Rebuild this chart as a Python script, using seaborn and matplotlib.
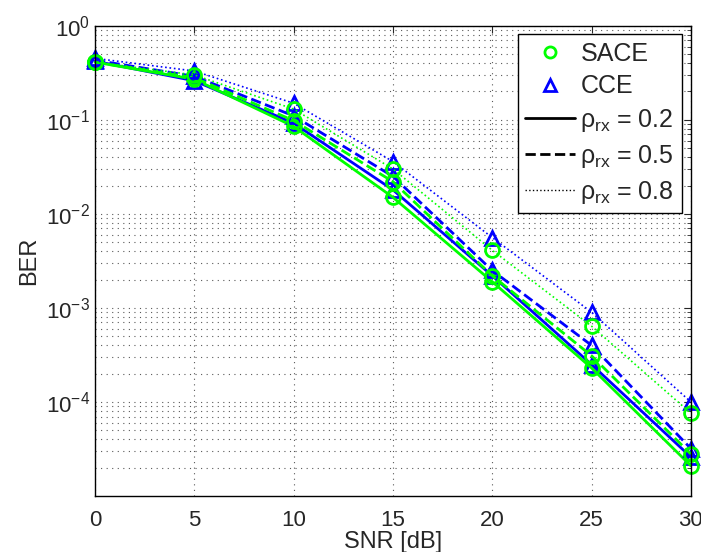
import numpy as np
import pandas as pd
import matplotlib
matplotlib.use("Agg")
import matplotlib.pyplot as plt
import seaborn as sns
from matplotlib.lines import Line2D
from matplotlib.ticker import LogLocator, NullFormatter

sns.set_style("white")
plt.rcParams['font.family'] = ['Liberation Sans', 'DejaVu Sans']
plt.rcParams['mathtext.fontset'] = 'custom'
plt.rcParams['mathtext.rm'] = 'Liberation Sans'
plt.rcParams['mathtext.it'] = 'Liberation Sans'

# Data
snr = [0, 5, 10, 15, 20, 25, 30]
sace_02 = [0.41, 0.27, 0.085, 0.015, 0.0019, 0.00023, 0.000021]
cce_02 = [0.42, 0.26, 0.092, 0.018, 0.0022, 0.00025, 0.000026]
sace_05 = [0.41, 0.28, 0.098, 0.022, 0.0022, 0.00031, 0.000028]
cce_05 = [0.43, 0.29, 0.11, 0.025, 0.0025, 0.00040, 0.000032]
sace_08 = [0.41, 0.30, 0.13, 0.030, 0.0041, 0.00064, 0.000076]
cce_08 = [0.45, 0.33, 0.15, 0.036, 0.0056, 0.00090, 0.000100]

rho_labels = ["0.2", "0.5", "0.8"]
styles = ["-", "--", ":"]
sace_series = [sace_02, sace_05, sace_08]
cce_series = [cce_02, cce_05, cce_08]

green = (0, 1, 0)
blue = (0, 0, 1)

fig = plt.figure(figsize=(7.01, 5.52), dpi=100)
ax = fig.add_axes([0.1355, 0.1014, 0.850, 0.852])

for ls, s_vals, c_vals in zip(styles, sace_series, cce_series):
    lw = 2 if ls != ":" else 1.2
    sns.lineplot(x=snr, y=c_vals, ax=ax, color=blue, linestyle=ls, linewidth=lw,
                 marker="^", markersize=10, markerfacecolor="none",
                 markeredgecolor=blue, markeredgewidth=2, clip_on=False)
    sns.lineplot(x=snr, y=s_vals, ax=ax, color=green, linestyle=ls, linewidth=lw,
                 marker="o", markersize=10, markerfacecolor="none",
                 markeredgecolor=green, markeredgewidth=2, clip_on=False)

ax.set_yscale("log")
ax.set_xlim(0, 30)
ax.set_ylim(1e-5, 1)
ax.set_xticks([0, 5, 10, 15, 20, 25, 30])
ax.set_yticks([1e0, 1e-1, 1e-2, 1e-3, 1e-4])
ax.yaxis.set_minor_locator(LogLocator(base=10, subs=np.arange(2, 10), numticks=20))
ax.yaxis.set_minor_formatter(NullFormatter())

ax.grid(True, which="major", axis="both", linestyle=(0, (1, 4)), color="0.35", linewidth=0.8)
ax.grid(True, which="minor", axis="y", linestyle=(0, (1, 4)), color="0.35", linewidth=0.8)

ax.tick_params(axis="both", which="both", direction="in", top=True, right=True,
               labelsize=16)
ax.tick_params(axis="both", which="major", length=5)
ax.tick_params(axis="y", which="minor", length=3)
ax.tick_params(axis="x", pad=10)
for sp in ax.spines.values():
    sp.set_color("black")
    sp.set_linewidth(1)

ax.set_xlabel("SNR [dB]", fontsize=17, labelpad=0)
ax.set_ylabel("BER", fontsize=17, labelpad=4)

handles = [
    Line2D([], [], linestyle="none", marker="o", markersize=8, markerfacecolor="none",
           markeredgecolor=green, markeredgewidth=2),
    Line2D([], [], linestyle="none", marker="^", markersize=8, markerfacecolor="none",
           markeredgecolor=blue, markeredgewidth=2),
]
labels = ["SACE", "CCE"]
for ls, r in zip(styles, rho_labels):
    handles.append(Line2D([], [], color="black", linestyle=ls,
                          linewidth=2 if ls != ":" else 1))
    labels.append(r"$\rho_{\mathrm{rx}}$ = " + r)

leg = ax.legend(handles, labels, loc="upper right", fontsize=18, frameon=True,
                fancybox=False, edgecolor="black", framealpha=1,
                handlelength=2.0, handletextpad=0.2, borderpad=0.3,
                labelspacing=0.35, borderaxespad=0.3,
                bbox_to_anchor=(0.997, 0.998))
leg.get_frame().set_linewidth(1)

fig.savefig("out.png", dpi=100)
